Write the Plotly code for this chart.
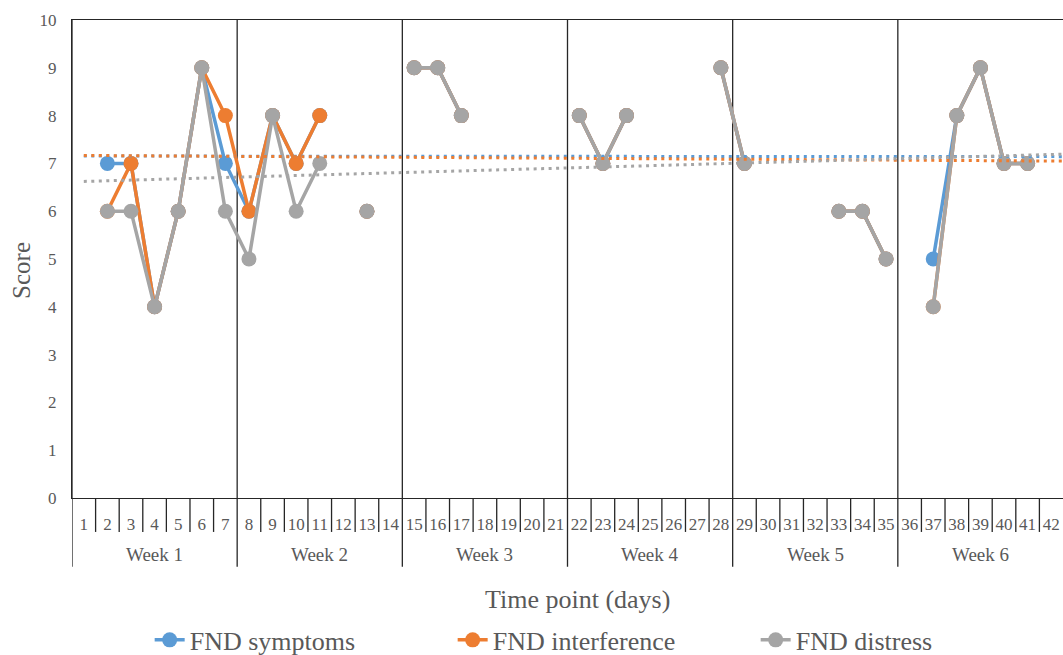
import numpy as np
import plotly.graph_objects as go

days = list(range(1, 43))
day_labels = [str(d) for d in days]
weeks = ["Week 1", "Week 2", "Week 3", "Week 4", "Week 5", "Week 6"]

N = None
symptoms = [N, 7, 7, 4, 6, 9, 7, 6, 8, 7, 8, N, 6, N,
            9, 9, 8, N, N, N, N, 8, 7, 8, N, N, N, 9,
            7, N, N, N, 6, 6, 5, N, 5, 8, 9, 7, 7, N]
interference = [N, 6, 7, 4, 6, 9, 8, 6, 8, 7, 8, N, 6, N,
                9, 9, 8, N, N, N, N, 8, 7, 8, N, N, N, 9,
                7, N, N, N, 6, 6, 5, N, 4, 8, 9, 7, 7, N]
distress = [N, 6, 6, 4, 6, 9, 6, 5, 8, 6, 7, N, 6, N,
            9, 9, 8, N, N, N, N, 8, 7, 8, N, N, N, 9,
            7, N, N, N, 6, 6, 5, N, 4, 8, 9, 7, 7, N]

series = [("FND symptoms", symptoms, "#5B9BD5"),
          ("FND interference", interference, "#ED7D31"),
          ("FND distress", distress, "#A5A5A5")]

FONT = "Liberation Serif, Times New Roman, serif"
TXT = "#595959"
LINE = "#262626"

fig = go.Figure()
for name, vals, col in series:
    fig.add_trace(go.Scatter(
        x=days, y=vals, name=name, mode="lines+markers",
        line=dict(color=col, width=3.5),
        marker=dict(color=col, size=15, line=dict(width=0)),
        connectgaps=False))

# linear trendlines (Excel-style) computed from each series
for name, vals, col in series:
    xs = np.array([d for d, v in zip(days, vals) if v is not None], float)
    ys = np.array([v for v in vals if v is not None], float)
    m, b = np.polyfit(xs, ys, 1)
    tx = np.array([days[0], days[-1] + 0.5])
    fig.add_trace(go.Scatter(
        x=tx, y=m * tx + b, mode="lines", showlegend=False, hoverinfo="skip",
        line=dict(color=col, width=3, dash="3px,4.5px")))

shapes = []
for w in range(len(weeks) + 1):
    xb = 0.5 + 7 * w
    if xb > 42:
        continue
    shapes.append(dict(type="line", xref="x", yref="paper", x0=xb, x1=xb,
                       y0=1, y1=-0.144, line=dict(color=LINE, width=1.3),
                       layer="below"))
for d in days[:-1]:
    if d % 7 == 0:
        continue
    shapes.append(dict(type="line", xref="x", yref="paper", x0=d + 0.5, x1=d + 0.5,
                       y0=0, y1=-0.071, line=dict(color=LINE, width=1.3),
                       layer="below"))

annotations = []
for i, wk in enumerate(weeks):
    annotations.append(dict(text=wk, x=4 + 7 * i, xref="x", y=-0.119, yref="paper",
                            showarrow=False, xanchor="center", yanchor="middle",
                            font=dict(family=FONT, size=19, color=TXT)))
annotations.append(dict(text="Time point (days)", x=0.51, xref="paper", y=-0.213,
                        yref="paper", showarrow=False, xanchor="center",
                        yanchor="middle", font=dict(family=FONT, size=26, color=TXT)))
annotations.append(dict(text="Score", x=-0.0505, xref="paper", y=0.477, yref="paper",
                        showarrow=False, textangle=-90, xanchor="center",
                        yanchor="middle", font=dict(family=FONT, size=25, color=TXT)))

fig.update_layout(
    width=1063, height=655,
    margin=dict(l=72, r=0, t=20, b=157, autoexpand=False),
    plot_bgcolor="white", paper_bgcolor="white",
    font=dict(family=FONT, color=TXT),
    shapes=shapes, annotations=annotations,
    showlegend=True,
    legend=dict(orientation="h", x=0.537, xanchor="center", y=-0.297,
                yanchor="middle", font=dict(family=FONT, size=26, color=TXT),
                entrywidth=258, entrywidthmode="pixels", bgcolor="rgba(0,0,0,0)"),
    xaxis=dict(range=[0.5, 42.5], tickmode="array", tickvals=days, ticktext=day_labels,
               showgrid=False, zeroline=False, showline=True, linecolor=LINE,
               linewidth=1.3, mirror=True, ticks="outside", ticklen=10, automargin=False,
               tickcolor="rgba(0,0,0,0)", tickfont=dict(family=FONT, size=17, color=TXT)),
    yaxis=dict(range=[0, 10], dtick=1, showgrid=False, zeroline=False, showline=True,
               linecolor=LINE, linewidth=1.3, ticks="", ticklabelstandoff=11,
               automargin=False, tickfont=dict(family=FONT, size=17, color=TXT)),
)

fig.write_html("out.html", config={"displayModeBar": False},
               post_script="document.body.style.margin='0';")
